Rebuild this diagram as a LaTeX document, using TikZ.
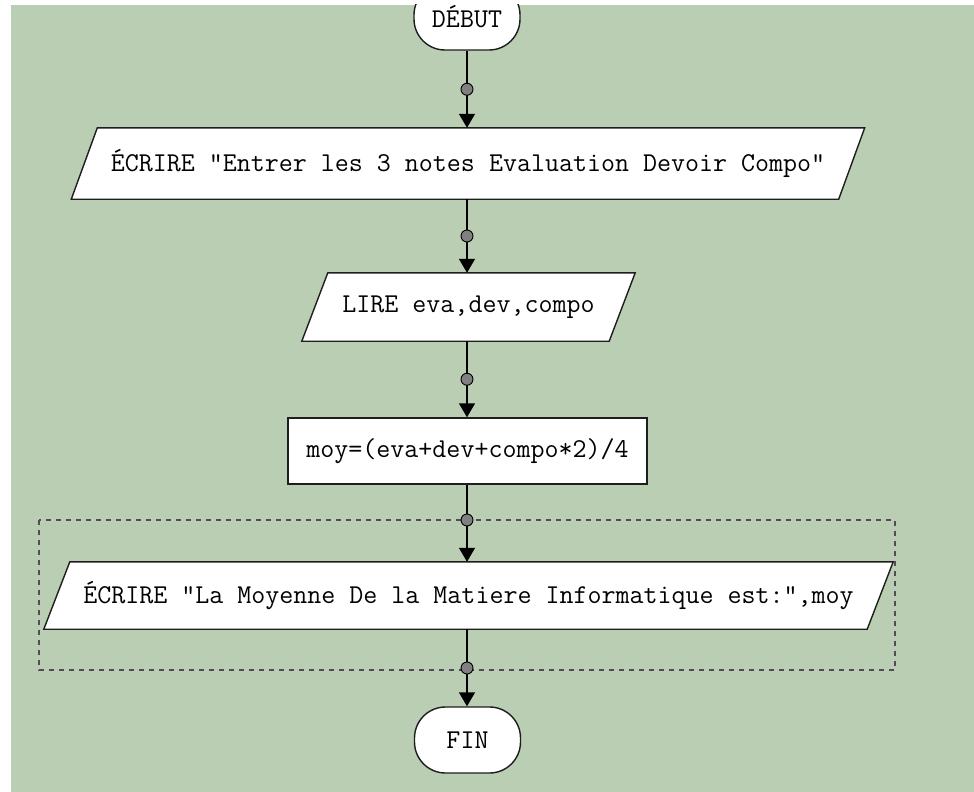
\documentclass[tikz,border=0pt]{standalone}
\usepackage{fontspec}
\usetikzlibrary{arrows.meta,backgrounds,calc}
\definecolor{bggreen}{RGB}{185,206,178}
\definecolor{dashcol}{RGB}{85,72,88}
\definecolor{dotgray}{RGB}{128,128,128}
\definecolor{edge}{RGB}{30,30,30}
\begin{document}
\begin{tikzpicture}[x=1pt,y=-1pt,
  txt/.style={font=\ttfamily\fontsize{27.2}{30}\selectfont, text=black, inner sep=0pt, anchor=center},
  term/.style={txt, draw=edge, fill=white, line width=1.4pt, rounded corners=31pt, minimum width=106pt, minimum height=66pt},
  procbox/.style={txt, draw=edge, fill=white, line width=1.4pt},
  ioshape/.style={txt},
  para/.style={draw=edge, fill=white, line width=1.4pt},
  flow/.style={draw=black, line width=1.4pt, -{Triangle[width=16pt,length=14pt]}},
  jdot/.style={circle, draw=black, fill=dotgray, line width=0.9pt, minimum size=12pt, inner sep=0pt},
  grp/.style={draw=dashcol, line width=1.2pt, dash pattern=on 5pt off 5pt}
]
\useasboundingbox (0,0) rectangle (974,792);
\begin{scope}[on background layer]
\fill[white] (0,0) rectangle (974,792);
\fill[bggreen] (11,5) rectangle (974,792);
\end{scope}

% group box
\draw[grp] (39,520) rectangle (895,670);

% nodes
\begin{scope}
\clip (11,5) rectangle (974,792);
\node[term] (debut) at (467,17) {DÉBUT};
\end{scope}
\node[ioshape, minimum width=767pt, minimum height=71pt] (p1) at (468,163.5) {ÉCRIRE "Entrer les 3 notes Evaluation Devoir Compo"};
\node[ioshape, minimum width=307pt, minimum height=68pt] (p2) at (468.5,307) {LIRE eva,dev,compo};
\node[procbox, minimum width=359pt, minimum height=66pt] (calc) at (467.5,451) {moy=(eva+dev+compo*2)/4};
\node[ioshape, minimum width=823pt, minimum height=67pt] (p3) at (468.5,595.5) {ÉCRIRE "La Moyenne De la Matiere Informatique est:",moy};
\node[term] (fin) at (467.5,740) {FIN};

% parallelogram outlines behind texts
\begin{scope}[on background layer]
\foreach \n in {p1,p2,p3}{
  \path[para] ([xshift=13pt]\n.north west) -- ([xshift=13pt]\n.north east) -- ([xshift=-13pt]\n.south east) -- ([xshift=-13pt]\n.south west) -- cycle;
}
\end{scope}

% connector ends on the common axis
\coordinate (a1) at (debut.south |- p1.north);
\coordinate (b1) at (debut.south |- p1.south);
\coordinate (a2) at (debut.south |- p2.north);
\coordinate (b2) at (debut.south |- p2.south);
\coordinate (a3) at (debut.south |- calc.north);
\coordinate (b3) at (debut.south |- calc.south);
\coordinate (a4) at (debut.south |- p3.north);
\coordinate (b4) at (debut.south |- p3.south);
\coordinate (a5) at (debut.south |- fin.north);

% connectors
\draw[flow] (debut.south) -- (a1);
\draw[flow] (b1) -- (a2);
\draw[flow] (b2) -- (a3);
\draw[flow] (b3) -- (a4);
\draw[flow] (b4) -- (a5);

% junction dots
\node[jdot] (d1) at ($(debut.south)!0.5!(a1)$) {};
\node[jdot] (d2) at ($(b1)!0.5!(a2)$) {};
\node[jdot] (d3) at ($(b2)!0.5!(a3)$) {};
\node[jdot] (d4) at (467,520) {};
\node[jdot] (d5) at (467,668) {};
\end{tikzpicture}
\end{document}
